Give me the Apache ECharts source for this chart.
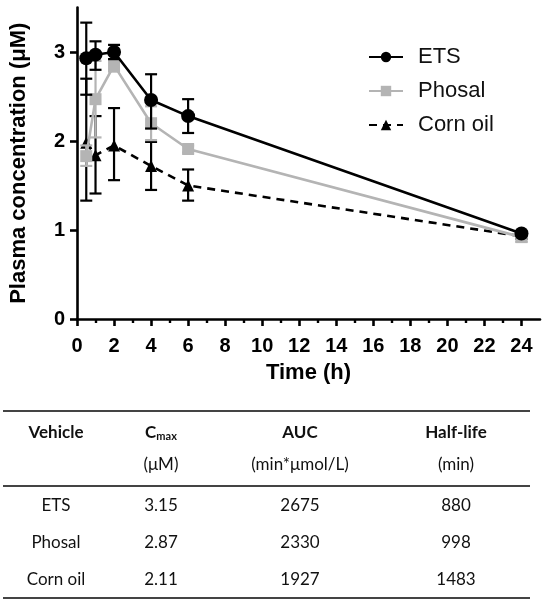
<!DOCTYPE html>
<html>
<head>
<meta charset="utf-8">
<script src="https://cdn.jsdelivr.net/npm/echarts@6/dist/echarts.min.js"></script>
<style>
html,body{margin:0;padding:0;background:#fff;}
#chart{width:542px;height:600px;}
</style>
</head>
<body>
<div id="chart"></div>
<script>
// ---- Data ----
const times = [0.5, 1, 2, 4, 6, 24];
const etsMean = [2.93, 2.97, 3.00, 2.46, 2.28, 0.96];
const etsLow  = [2.52, 2.80, 2.92, 2.14, 2.09, 0.93];
const etsHigh = [3.33, 3.12, 3.08, 2.75, 2.47, 0.99];
const phosalMean = [1.83, 2.47, 2.85, 2.20, 1.91, 0.92];
const phosalLow  = [1.72, 2.04, 2.78, 2.01, 1.87, 0.87];
const phosalHigh = [1.95, 2.90, 2.92, 2.39, 1.95, 0.95];
const cornMean = [1.98, 1.84, 1.95, 1.72, 1.50, 0.93];
const cornLow  = [1.33, 1.41, 1.56, 1.45, 1.33, 0.90];
const cornHigh = [2.70, 2.28, 2.37, 1.99, 1.68, 0.96];
const seriesNames = ['ETS', 'Phosal', 'Corn oil'];
const xTicks = [0, 2, 4, 6, 8, 10, 12, 14, 16, 18, 20, 22, 24];
const xMinorTicks = [1, 3, 5, 7, 9, 11, 13, 15, 17, 19, 21, 23];
const yTicks = [0, 1, 2, 3];
const xAxisTitle = 'Time (h)';
const yAxisTitle = 'Plasma concentration (μM)';

const tableHeader1 = ['Vehicle', 'Cmax', 'AUC', 'Half-life'];
const tableHeader2 = ['', '(μM)', '(min*μmol/L)', '(min)'];
const tableVehicles = ['ETS', 'Phosal', 'Corn oil'];
const tableCmax = ['3.15', '2.87', '2.11'];
const tableAUC = ['2675', '2330', '1927'];
const tableHalfLife = ['880', '998', '1483'];

// ---- Helpers ----
function pairs(xs, ys) { return xs.map((x, i) => [x, ys[i]]); }
function triples(xs, lo, hi) { return xs.map((x, i) => [x, lo[i], hi[i]]); }

function errorSeries(data, color, z) {
  return {
    type: 'custom',
    z: z,
    silent: true,
    data: data,
    encode: { x: 0, y: [1, 2] },
    renderItem: function (params, api) {
      const x = api.value(0);
      const lo = api.coord([x, api.value(1)]);
      const hi = api.coord([x, api.value(2)]);
      const hw = 6;
      const st = { stroke: color, lineWidth: 2.2 };
      return {
        type: 'group',
        children: [
          { type: 'line', shape: { x1: lo[0], y1: lo[1], x2: hi[0], y2: hi[1] }, style: st },
          { type: 'line', shape: { x1: lo[0] - hw, y1: lo[1], x2: lo[0] + hw, y2: lo[1] }, style: st },
          { type: 'line', shape: { x1: hi[0] - hw, y1: hi[1], x2: hi[0] + hw, y2: hi[1] }, style: st }
        ]
      };
    }
  };
}

const chartFont = 'Liberation Sans, Arial, sans-serif';
const tableFont = 'Lato, Open Sans, sans-serif';
const gray = '#b4b4b4';

// ---- Table graphics ----
const colX = [56, 161, 300, 456];
const lineL = 3, lineR = 530;
const yLine1 = 411, yLine2 = 486, yLine3 = 598;
const yHead1 = 433, yHead2 = 465;
const yRows = [506, 543, 580];

const graphics = [];
function hline(y, w) {
  graphics.push({ type: 'line', shape: { x1: lineL, y1: y, x2: lineR, y2: y },
    style: { stroke: '#444', lineWidth: w } });
}
function txt(x, y, s, bold, extra) {
  graphics.push(Object.assign({ type: 'text', x: x, y: y,
    style: { text: s, font: (bold ? 'bold ' : '') + '17px ' + tableFont, fill: '#111',
      align: 'center', verticalAlign: 'middle' } }, extra || {}));
}
hline(yLine1, 1.8); hline(yLine2, 1.8); hline(yLine3, 1.8);
txt(colX[0], yHead1, tableHeader1[0], true);
graphics.push({ type: 'text', x: colX[1], y: yHead1,
  style: { text: '{c|C}{m|max}', align: 'center', verticalAlign: 'middle', fill: '#111',
    rich: { c: { font: 'bold 17px ' + tableFont, fill: '#111' },
            m: { font: 'bold 11px ' + tableFont, fill: '#111', padding: [6, 0, 0, 0] } } } });
txt(colX[2], yHead1, tableHeader1[2], true);
txt(colX[3], yHead1, tableHeader1[3], true);
for (let i = 1; i < 4; i++) txt(colX[i], yHead2, tableHeader2[i], false);
for (let r = 0; r < 3; r++) {
  txt(colX[0], yRows[r], tableVehicles[r], false);
  txt(colX[1], yRows[r], tableCmax[r], false);
  txt(colX[2], yRows[r], tableAUC[r], false);
  txt(colX[3], yRows[r], tableHalfLife[r], false);
}

const chart = echarts.init(document.getElementById('chart'), null, { renderer: 'canvas' });
const axisLineStyle = { color: '#000', width: 2.6 };

chart.setOption({
  animation: false,
  backgroundColor: '#fff',
  textStyle: { fontFamily: chartFont },
  grid: { left: 72, right: 2, top: 7.5, bottom: 281, containLabel: false },
  legend: {
    orient: 'vertical', left: 363, top: 41,
    itemWidth: 34, itemHeight: 13, itemGap: 12,
    textStyle: { fontSize: 22, color: '#111', fontFamily: chartFont, lineHeight: 22, padding: [0, 0, 0, 10] },
    data: seriesNames
  },
  xAxis: [{
    type: 'value', min: 0, max: 25,
    name: xAxisTitle, nameLocation: 'middle', nameGap: 43,
    nameTextStyle: { fontSize: 22, fontWeight: 'bold', color: '#000', fontFamily: chartFont },
    axisLine: { show: true, lineStyle: axisLineStyle },
    axisTick: { show: true, length: 7, lineStyle: { color: '#000', width: 2.6 }, customValues: xTicks },
    axisLabel: { show: true, fontSize: 20, fontWeight: 'bold', color: '#000', margin: 17, customValues: xTicks, fontFamily: chartFont },
    splitLine: { show: false }
  }, {
    type: 'value', min: 0, max: 25, position: 'bottom',
    axisLine: { show: false },
    axisTick: { show: true, length: 4, lineStyle: { color: '#000', width: 2.4 }, customValues: xMinorTicks },
    axisLabel: { show: false },
    splitLine: { show: false }
  }],
  yAxis: {
    type: 'value', min: 0, max: 3.5,
    name: yAxisTitle, nameLocation: 'middle', nameGap: 47, nameRotate: 90,
    nameTextStyle: { fontSize: 22, fontWeight: 'bold', color: '#000', fontFamily: chartFont },
    axisLine: { show: true, lineStyle: axisLineStyle },
    axisTick: { show: true, length: 7, lineStyle: { color: '#000', width: 2.6 }, customValues: yTicks },
    axisLabel: { show: true, fontSize: 20, fontWeight: 'bold', color: '#000', margin: 12, customValues: yTicks, fontFamily: chartFont },
    splitLine: { show: false }
  },
  graphic: graphics,
  series: [
    errorSeries(triples(times, cornLow, cornHigh), '#000', 2),
    {
      name: 'Corn oil', type: 'line', z: 3, data: pairs(times, cornMean),
      symbol: 'triangle', symbolSize: 12,
      lineStyle: { color: '#000', width: 2.6, type: [8, 6] },
      itemStyle: { color: '#000' }
    },
    errorSeries(triples(times, phosalLow, phosalHigh), gray, 4),
    {
      name: 'Phosal', type: 'line', z: 5, data: pairs(times, phosalMean),
      symbol: 'rect', symbolSize: 12,
      lineStyle: { color: gray, width: 2.6 },
      itemStyle: { color: gray }
    },
    errorSeries(triples(times, etsLow, etsHigh), '#000', 6),
    {
      name: 'ETS', type: 'line', z: 7, data: pairs(times, etsMean),
      symbol: 'circle', symbolSize: 14,
      lineStyle: { color: '#000', width: 2.6 },
      itemStyle: { color: '#000' }
    }
  ]
});
</script>
</body>
</html>
